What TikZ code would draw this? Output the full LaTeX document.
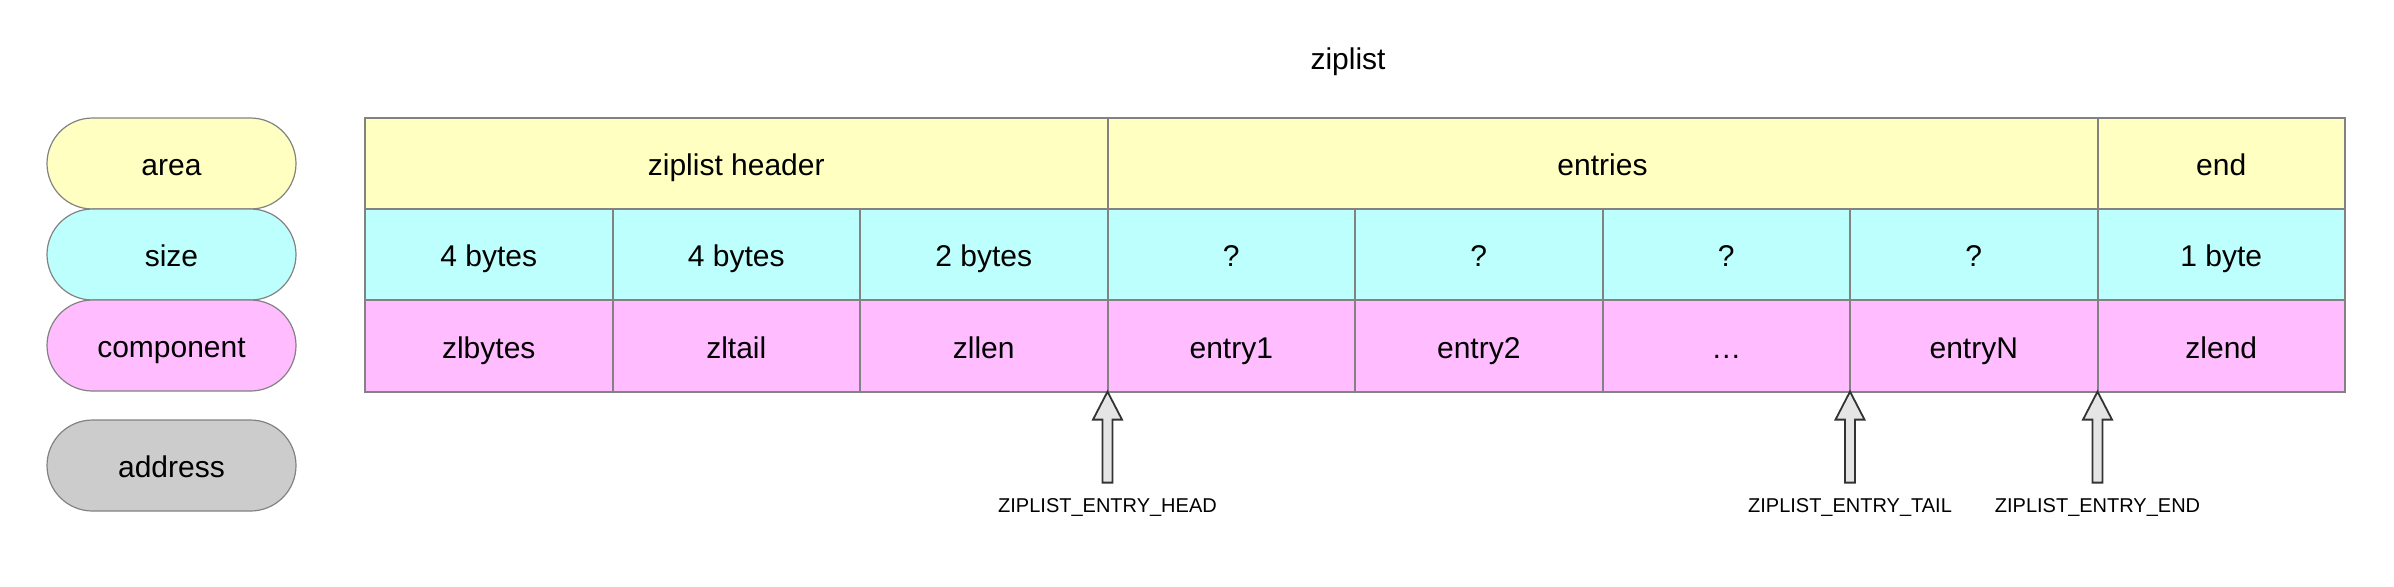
\documentclass[tikz,border=0pt]{standalone}
\usepackage{fontspec}
\setmainfont{Liberation Sans}
\usetikzlibrary{positioning, shapes.misc}

\definecolor{areayellow}{HTML}{FFFFC2}
\definecolor{sizecyan}{HTML}{BDFFFC}
\definecolor{comppink}{HTML}{FFBDFF}
\definecolor{addrgray}{HTML}{CCCCCC}
\definecolor{linegray}{HTML}{828282}

\begin{document}
\begin{tikzpicture}[
    node distance=0pt,
    every node/.style={font=\fontsize{15pt}{18pt}\selectfont, text height=13pt, text depth=1pt},
    legend/.style={rounded rectangle, draw=linegray, line width=0.6pt, minimum width=124.5pt, minimum height=45.5pt, inner sep=0pt, outer sep=0pt},
    cell/.style={rectangle, draw=linegray, line width=1pt, minimum width=123.75pt, minimum height=45.6pt, inner sep=0pt, outer sep=0pt},
    areacell/.style={cell, fill=areayellow},
    sizecell/.style={cell, fill=sizecyan},
    compcell/.style={cell, fill=comppink},
    ptr/.style={font=\fontsize{10pt}{12pt}\selectfont, text height=7.2pt, text depth=2.1pt},
    blockarrow/.style={draw=black!80, fill=black!10, line width=0.9pt, line join=miter}
]
\useasboundingbox (0,0) rectangle (1197pt,-293pt);

% Title
\node (title) at (674pt,-28.5pt) {ziplist};

% Legend
\node (area) [legend, fill=areayellow] at (85.75pt,-81.75pt) {area};
\node (size) [legend, fill=sizecyan, below=of area] {size};
\node (component) [legend, fill=comppink, below=of size] {component};
\node (address) [legend, fill=addrgray, below=14.5pt of component] {address};

% Area row
\node (header) [areacell, minimum width=371.25pt, anchor=north west] at (182.5pt,-59pt) {ziplist header};
\node (entries) [areacell, minimum width=495pt, right=of header] {entries};
\node (endarea) [areacell, right=of entries] {end};

% Size row
\node (s1) [sizecell, anchor=north west] at (header.south west) {4 bytes};
\node (s2) [sizecell, right=of s1] {4 bytes};
\node (s3) [sizecell, right=of s2] {2 bytes};
\node (s4) [sizecell, right=of s3] {?};
\node (s5) [sizecell, right=of s4] {?};
\node (s6) [sizecell, right=of s5] {?};
\node (s7) [sizecell, right=of s6] {?};
\node (s8) [sizecell, right=of s7] {1 byte};

% Component row
\node (c1) [compcell, anchor=north west] at (s1.south west) {zlbytes};
\node (c2) [compcell, right=of c1] {zltail};
\node (c3) [compcell, right=of c2] {zllen};
\node (c4) [compcell, right=of c3] {entry1};
\node (c5) [compcell, right=of c4] {entry2};
\node (c6) [compcell, right=of c5] {…};
\node (c7) [compcell, right=of c6] {entryN};
\node (c8) [compcell, right=of c7] {zlend};

% Pointers
\node (headptr) [ptr] at ([yshift=-58pt]c4.south west) {ZIPLIST\_ENTRY\_HEAD};
\node (tailptr) [ptr] at ([yshift=-58pt]c7.south west) {ZIPLIST\_ENTRY\_TAIL};
\node (endptr) [ptr] at ([yshift=-58pt]c8.south west) {ZIPLIST\_ENTRY\_END};

\draw [blockarrow] (c4.south west) -- ++(7.25pt,-14pt) -- ++(-4.75pt,0) -- ++(0,-31.5pt) -- ++(-5pt,0) -- ++(0,31.5pt) -- ++(-4.75pt,0) -- cycle;
\draw [blockarrow] (c7.south west) -- ++(7.25pt,-14pt) -- ++(-4.75pt,0) -- ++(0,-31.5pt) -- ++(-5pt,0) -- ++(0,31.5pt) -- ++(-4.75pt,0) -- cycle;
\draw [blockarrow] (c8.south west) -- ++(7.25pt,-14pt) -- ++(-4.75pt,0) -- ++(0,-31.5pt) -- ++(-5pt,0) -- ++(0,31.5pt) -- ++(-4.75pt,0) -- cycle;

\end{tikzpicture}
\end{document}
